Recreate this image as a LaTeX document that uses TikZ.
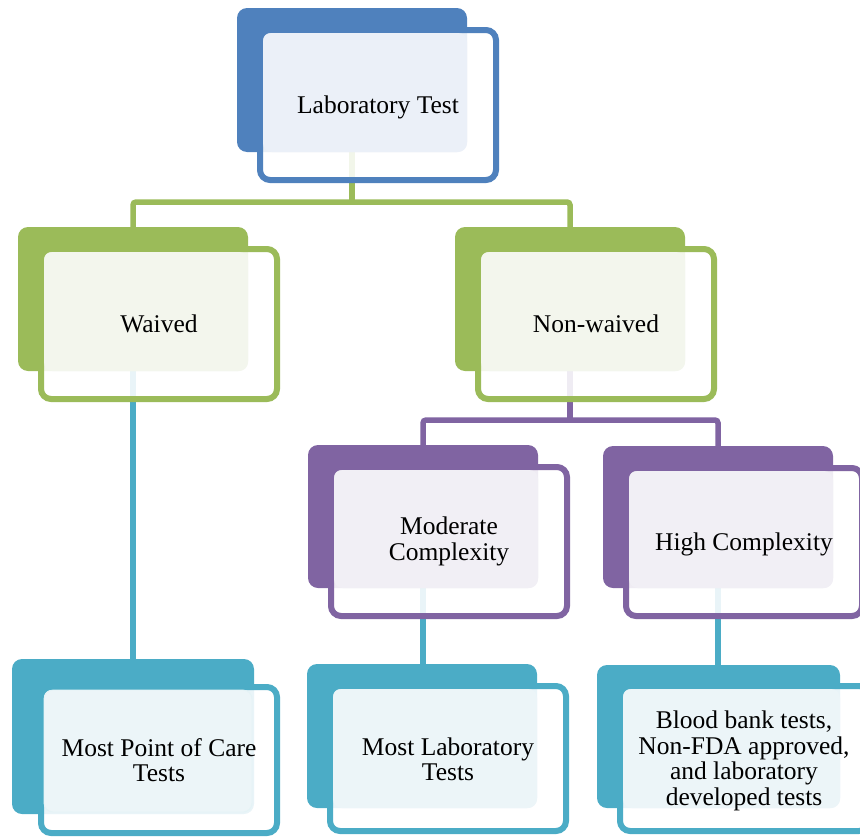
\documentclass[tikz,border=0pt]{standalone}
\usepackage{fontspec}
\setmainfont{Liberation Serif}
\usetikzlibrary{backgrounds}
\definecolor{cblue}{HTML}{4F81BD}
\definecolor{cgreen}{HTML}{9BBB59}
\definecolor{cpurple}{HTML}{8064A2}
\definecolor{ccyan}{HTML}{4BACC6}
\definecolor{lblue}{HTML}{EBF0F8}
\definecolor{lgreen}{HTML}{F3F6ED}
\definecolor{lpurple}{HTML}{F1EFF5}
\definecolor{lcyan}{HTML}{ECF5F8}
\newcommand{\rbox}[6]{\node[#2, minimum width={(#5-#3)*1pt}, minimum height={(#6-#4)*1pt}] (#1) at ({(#3+#5)/2},{(#4+#6)/2}) {};}
\begin{document}
\begin{tikzpicture}[x=1pt,y=-1pt,
  darkbox/.style={rectangle, rounded corners=10pt, inner sep=0pt, outer sep=0pt, draw=none},
  framebox/.style={rectangle, rounded corners=10pt, line width=6pt, fill=white, fill opacity=0.88, inner sep=0pt, outer sep=0pt},
  litebox/.style={rectangle, rounded corners=9pt, inner sep=0pt, outer sep=0pt, draw=none},
  lbl/.style={align=center, font=\fontsize{25.5}{25.5}\selectfont, text=black, inner sep=0pt},
  conn/.style={line width=5.5pt, rounded corners=3pt}]
\useasboundingbox (0,0) rectangle (860,838);

% Laboratory Test
\rbox{labD}{darkbox,fill=cblue}{237}{8}{467}{152}
\rbox{labF}{framebox,draw=cblue}{260}{30}{496}{180}
\rbox{labL}{litebox,fill=lblue}{263}{33}{467}{152}
\node[lbl] (labT) at ([yshift=-2pt]labF.center) {Laboratory Test};

% Waived
\rbox{waiD}{darkbox,fill=cgreen}{18}{227}{248}{371}
\rbox{waiF}{framebox,draw=cgreen}{41}{249}{277}{399}
\rbox{waiL}{litebox,fill=lgreen}{44}{252}{248}{371}
\node[lbl] (waiT) at (waiF.center) {Waived};

% Non-waived
\rbox{nwD}{darkbox,fill=cgreen}{455}{227}{685}{371}
\rbox{nwF}{framebox,draw=cgreen}{478}{249}{714}{399}
\rbox{nwL}{litebox,fill=lgreen}{481}{252}{685}{371}
\node[lbl] (nwT) at (nwF.center) {Non-waived};

% Moderate Complexity
\rbox{modD}{darkbox,fill=cpurple}{308}{445}{538}{588}
\rbox{modF}{framebox,draw=cpurple}{331}{467}{567}{616}
\rbox{modL}{litebox,fill=lpurple}{334}{470}{538}{588}
\node[lbl] (modT) at (modF.center) {Moderate\\Complexity};

% High Complexity
\rbox{highD}{darkbox,fill=cpurple}{603}{446}{833}{588}
\rbox{highF}{framebox,draw=cpurple}{626}{468}{862}{616}
\rbox{highL}{litebox,fill=lpurple}{629}{471}{833}{588}
\node[lbl] (highT) at ([yshift=-2pt]highF.center) {High Complexity};

% Most Point of Care Tests
\rbox{mpcD}{darkbox,fill=ccyan}{12}{659}{254}{814}
\rbox{mpcF}{framebox,draw=ccyan}{41}{687}{277}{833}
\rbox{mpcL}{litebox,fill=lcyan,draw=ccyan!15,line width=0.8pt}{44}{690}{252}{812}
\node[lbl] (mpcT) at (mpcF.center) {Most Point of Care\\Tests};

% Most Laboratory Tests
\rbox{mlabD}{darkbox,fill=ccyan}{307}{664}{537}{808}
\rbox{mlabF}{framebox,draw=ccyan}{330}{686}{566}{831}
\rbox{mlabL}{litebox,fill=lcyan}{333}{689}{537}{808}
\node[lbl] (mlabT) at ([yshift=-1pt]mlabF.center) {Most Laboratory\\Tests};

% Blood bank
\rbox{bbD}{darkbox,fill=ccyan}{597}{665}{840}{808}
\rbox{bbF}{framebox,draw=ccyan}{620}{686}{869}{831}
\rbox{bbL}{litebox,fill=lcyan}{623}{689}{840}{808}
\node[lbl] (bbT) at (744,761) {Blood bank tests,\\Non-FDA approved,\\and laboratory\\developed tests};

\coordinate (bus1) at (0,202);
\coordinate (bus2) at (0,420);
\begin{pgfonlayer}{background}
\draw[conn, cgreen] (labD.south) -- (labD.south |- bus1);
\draw[conn, cgreen] (waiD.north) -- (waiD.north |- bus1) -- (nwD.north |- bus1) -- (nwD.north);
\draw[conn, cpurple] (nwD.south) -- (nwD.south |- bus2);
\draw[conn, cpurple] (modD.north) -- (modD.north |- bus2) -- (highD.north |- bus2) -- (highD.north);
\draw[conn, ccyan] (waiD.south) -- (waiD.south |- mpcD.north);
\draw[conn, ccyan] (modD.south) -- (modD.south |- mlabD.north);
\draw[conn, ccyan] (highD.south) -- (highD.south |- bbD.north);
\end{pgfonlayer}
\end{tikzpicture}
\end{document}
